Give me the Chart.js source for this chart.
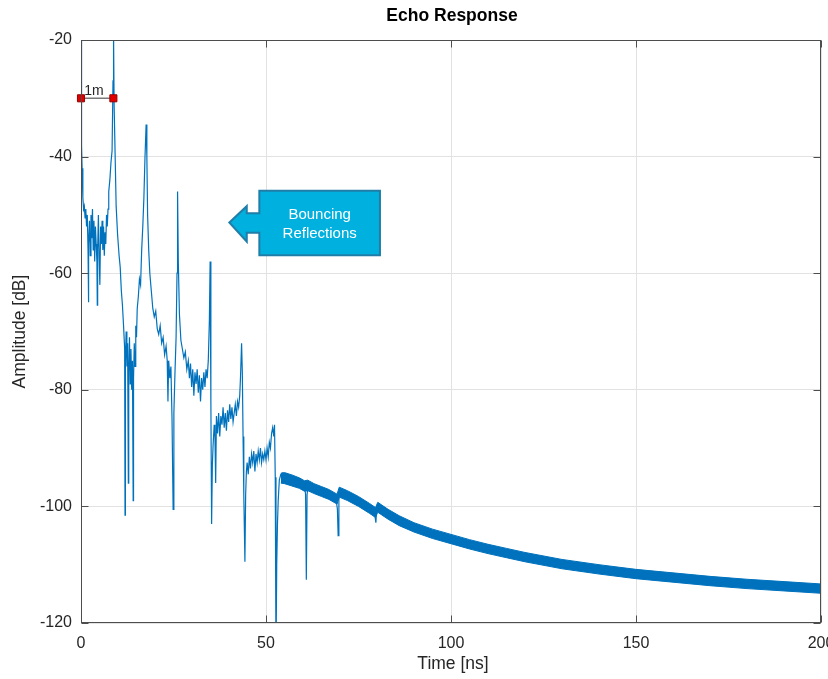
<!DOCTYPE html>
<html>
<head>
<meta charset="utf-8">
<title>Echo Response</title>
<script src="https://cdn.jsdelivr.net/npm/chart.js@4.4.1/dist/chart.umd.min.js"></script>
<style>
  html, body { margin: 0; padding: 0; background: #fff; }
  #wrap { width: 828px; height: 679px; }
</style>
</head>
<body>
<div id="wrap"><canvas id="echo" width="828" height="679"></canvas></div>
<script>
// echo trace, time in ns, amplitude in dB
const traceTime = [
  0, 0.15, 0.3, 0.5, 0.7, 0.9, 1.1, 1.3, 1.5, 1.7, 1.9, 2.0, 2.1, 2.3, 2.5, 2.7, 2.9, 3.1, 3.3, 3.5,
  3.7, 3.9, 4.1, 4.3, 4.4, 4.5, 4.7, 4.9, 5.1, 5.3, 5.5, 5.7, 5.9, 6.1, 6.3, 6.5, 6.7, 6.9, 7.1, 7.3,
  7.5, 7.8, 8.1, 8.4, 8.65, 8.8, 8.95, 9.2,
  9.5, 9.9, 10.3, 10.6, 10.9, 11.2, 11.5, 11.8, 11.9, 12.0, 12.2, 12.4, 12.6, 12.8, 12.9, 13.1, 13.3, 13.5,
  13.7, 13.9, 14.1, 14.2, 14.4, 14.6, 14.8, 15.0, 15.2, 15.5, 15.8, 16.1, 16.4, 16.7, 17.0, 17.3, 17.6,
  17.8, 18.0, 18.3, 18.6, 19.0, 19.4, 19.8, 20.2, 20.6, 21.0, 21.4, 21.8, 22.2, 22.6, 23.0, 23.3, 23.5,
  23.7, 24.0, 24.3, 24.6, 24.9, 25.1, 25.4, 25.7, 25.95, 26.1,
  26.3, 26.6, 27.0, 27.4, 27.8, 28.2, 28.6, 29.0, 29.3, 29.6, 29.9, 30.2, 30.5, 30.8, 31.1, 31.4, 31.7,
  32.0, 32.3, 32.6, 32.9, 33.2, 33.5, 33.8, 34.1, 34.4, 34.7, 34.9,
  35.1, 35.3, 35.5, 35.7, 36.0, 36.2, 36.4, 36.6, 36.9, 37.2, 37.5, 37.8, 38.1, 38.4, 38.7, 39.0, 39.3,
  39.6, 39.9, 40.2, 40.5, 40.8, 41.1, 41.4, 41.7, 42.0, 42.3, 42.6, 42.9, 43.1, 43.4,
  43.6, 43.8, 44.0, 44.3, 44.5, 44.7, 44.9, 45.2, 45.5, 45.8, 46.1, 46.4, 46.7, 47.0, 47.3, 47.6, 47.9,
  48.2, 48.5, 48.8, 49.1, 49.4, 49.7, 50.0, 50.3, 50.6, 50.9, 51.2, 51.5, 51.8, 52.1, 52.3, 52.5, 52.7,
  52.9, 53.1, 53.3, 53.6, 54.0,
  54.5, 55.0, 55.5, 56.0, 56.5, 57.0, 57.5, 58.0, 58.5, 59.0, 59.5, 60.0, 60.4, 60.7, 60.9, 61.1, 61.4,
  62.0, 63.0, 64.0, 65.0, 66.0, 67.0, 68.0, 69.0, 69.3, 69.5, 69.7, 69.9, 71.0, 72.5, 74.0, 75.5, 77.0,
  78.5, 79.4, 79.7, 79.9, 80.5, 81.0
];
const traceDb = [
  -19, -38, -42, -47, -49, -48.5, -50.5, -49, -52, -50, -56, -65, -55, -51, -57, -50, -54, -49, -56, -51,
  -58, -52, -55, -58, -65.5, -56, -50, -57, -62, -52, -55, -51, -56, -52, -57, -53, -55, -50, -52, -49,
  -46, -44, -41, -39, -27, -19, -31, -39,
  -48.5, -53.5, -57, -59, -63, -65.5, -69, -73, -101.5, -75, -70, -76, -72, -96, -77, -71, -79, -73,
  -80, -75, -99, -78, -72, -76, -69, -71, -66, -64, -61, -62, -56, -52, -47, -40, -34.5,
  -40, -50, -56, -60, -63, -66, -67.5, -66.5, -69.5, -70.5, -69, -72, -71, -74, -72.5, -75, -82,
  -75, -78, -76, -85, -100.5, -84, -77, -71, -60, -46,
  -58, -67, -71.5, -73, -74.5, -73.5, -76.5, -75, -78, -75.5, -79.5, -76.5, -81, -77, -79, -76.5, -80.5,
  -77.5, -82, -78, -80, -77, -79.5, -76.5, -78, -75, -68, -58,
  -82, -103, -93, -89.5, -86, -88, -96, -84.5, -87.5, -84, -88, -84.5, -86, -83, -86.5, -84, -87,
  -83.5, -85.5, -82.5, -85, -83, -85.5, -84, -82.5, -84.5, -82, -83, -81, -78, -72,
  -77, -88, -98, -109.5, -98, -94, -92.5, -94.5, -91.5, -93.5, -91, -92.5, -90.5, -94, -91, -92.5, -90.5,
  -92, -90, -92.5, -91, -92, -90.5, -92, -90, -91.5, -89, -90, -87.5, -86.5, -88, -86, -95, -126,
  -110, -103, -99, -95.5, -94.5,
  -94.3, -95.5, -94.6, -95.8, -94.8, -95.9, -95.2, -96.2, -95.4, -96.5, -95.8, -96.8, -96.3, -98, -112.6, -98, -96,
  -97.2, -97, -97.8, -97.6, -98.3, -98.1, -98.8, -99, -100.5, -105, -99, -97.3, -98, -98.3, -99, -99.2, -100,
  -100.6, -101.4, -102.8, -100.5, -100.4, -100.8
];

// dense noisy tail, drawn as the envelope of the trace
const bandTime = [
  54, 55, 57, 59, 60.4, 61.3, 63, 65, 67, 69.2, 69.8, 72, 75, 78, 79.6, 80.2, 83, 86, 90,
  95, 100, 105, 110, 115, 120, 130, 140, 150, 160, 170, 180, 190, 200
];
const bandUpper = [
  -94.3, -94.2, -94.6, -95.1, -95.6, -95.5, -96.1, -96.6, -97.1, -97.9, -96.7, -97.3, -98.3, -99.5, -100.2, -99.3, -100.5, -101.6, -102.8,
  -103.9, -104.8, -105.7, -106.5, -107.2, -107.9, -109.1, -110.0, -110.8, -111.4, -112.0, -112.5, -112.9, -113.3
];
const bandLower = [
  -96.0, -96.1, -96.5, -96.9, -97.4, -97.3, -97.8, -98.3, -98.8, -99.6, -98.4, -99.0, -100.0, -101.2, -101.9, -101.0, -102.2, -103.3, -104.4,
  -105.5, -106.4, -107.3, -108.1, -108.8, -109.5, -110.7, -111.6, -112.4, -113.0, -113.6, -114.1, -114.5, -114.9
];

// "1m" distance marker
const markerTime = [0, 8.75];
const markerDb = [-30, -30];

const xTicks = [0, 50, 100, 150, 200];
const yTicks = [-120, -100, -80, -60, -40, -20];

const FONT = "'Liberation Sans', Arial, Helvetica, sans-serif";
const LINE_BLUE = '#0072BD';
const AXIS_COLOR = '#4d4d4d';
const TEXT_COLOR = '#262626';

const toPoints = (xs, ys) => xs.map((v, i) => ({ x: v, y: ys[i] }));

const matlabFrame = {
  id: 'matlabFrame',
  afterDatasetsDraw(chart) {
    const { ctx, chartArea: a, scales: { x, y } } = chart;
    const px = (v) => x.getPixelForValue(v);
    const py = (v) => y.getPixelForValue(v);
    ctx.save();

    // callout arrow "Bouncing Reflections"
    const boxL = px(48.2), boxR = px(80.8), boxT = py(-45.85), boxB = py(-56.9);
    const headX = px(44.8), tipX = px(40.1), tipY = py(-51.3);
    const headT = py(-48.5), headB = py(-54.6), shaftT = py(-49.7), shaftB = py(-53.05);
    ctx.beginPath();
    ctx.moveTo(tipX, tipY);
    ctx.lineTo(headX, headT);
    ctx.lineTo(headX, shaftT);
    ctx.lineTo(boxL, shaftT);
    ctx.lineTo(boxL, boxT);
    ctx.lineTo(boxR, boxT);
    ctx.lineTo(boxR, boxB);
    ctx.lineTo(boxL, boxB);
    ctx.lineTo(boxL, shaftB);
    ctx.lineTo(headX, shaftB);
    ctx.lineTo(headX, headB);
    ctx.closePath();
    ctx.fillStyle = '#00B0DE';
    ctx.fill();
    ctx.lineWidth = 2;
    ctx.strokeStyle = '#1f7ea8';
    ctx.lineJoin = 'miter';
    ctx.stroke();
    ctx.fillStyle = '#ffffff';
    ctx.font = '15px ' + FONT;
    ctx.textAlign = 'center';
    ctx.textBaseline = 'middle';
    const cx = (boxL + boxR) / 2, cy = (boxT + boxB) / 2;
    ctx.fillText('Bouncing', cx, cy - 8.5);
    ctx.fillText('Reflections', cx, cy + 10.5);

    // "1m" label over the marker
    ctx.fillStyle = TEXT_COLOR;
    ctx.font = '14px ' + FONT;
    ctx.textBaseline = 'alphabetic';
    ctx.fillText('1m', px(markerTime[0]) + 13, py(markerDb[0]) - 3);

    // box with inward ticks
    ctx.strokeStyle = AXIS_COLOR;
    ctx.lineWidth = 1;
    const l = Math.round(a.left) + 0.5, r = Math.round(a.right) - 0.5;
    const t = Math.round(a.top) + 0.5, b = Math.round(a.bottom) - 0.5;
    ctx.strokeRect(l, t, r - l, b - t);
    ctx.beginPath();
    xTicks.forEach((v) => {
      const p = Math.round(px(v)) + 0.5;
      ctx.moveTo(p, b); ctx.lineTo(p, b - 7);
      ctx.moveTo(p, t); ctx.lineTo(p, t + 7);
    });
    yTicks.forEach((v) => {
      const p = Math.round(py(v)) + 0.5;
      ctx.moveTo(l, p); ctx.lineTo(l + 7, p);
      ctx.moveTo(r, p); ctx.lineTo(r - 7, p);
    });
    ctx.stroke();
    ctx.restore();
  },
  afterDraw(chart) {
    const { ctx, chartArea: a } = chart;
    ctx.save();
    ctx.fillStyle = '#000';
    ctx.textAlign = 'center';
    ctx.textBaseline = 'alphabetic';
    ctx.font = 'bold 17.5px ' + FONT;
    ctx.fillText('Echo Response', (a.left + a.right) / 2 + 1, 21);
    ctx.fillStyle = TEXT_COLOR;
    ctx.font = '17.5px ' + FONT;
    ctx.fillText('Time [ns]', (a.left + a.right) / 2 + 2, 669);
    ctx.translate(25, (a.top + a.bottom) / 2);
    ctx.rotate(-Math.PI / 2);
    ctx.fillText('Amplitude [dB]', 0, 0);
    ctx.restore();
  }
};

const config = {
  type: 'line',
  data: {
    datasets: [
      {
        label: '1m',
        data: toPoints(markerTime, markerDb),
        borderColor: '#7a7a7a',
        borderWidth: 1.5,
        pointStyle: 'rect',
        pointRadius: 5,
        pointBackgroundColor: '#e00000',
        pointBorderColor: '#9a0000',
        pointBorderWidth: 1,
        clip: false,
      },
      {
        label: 'Echo',
        data: toPoints(traceTime, traceDb),
        borderColor: LINE_BLUE,
        borderWidth: 1.2,
        pointRadius: 0,
        tension: 0,
      },
      {
        label: 'Tail upper',
        data: toPoints(bandTime, bandUpper),
        borderColor: LINE_BLUE,
        backgroundColor: LINE_BLUE,
        borderWidth: 1,
        pointRadius: 0,
        fill: '+1',
      },
      {
        label: 'Tail lower',
        data: toPoints(bandTime, bandLower),
        borderColor: LINE_BLUE,
        borderWidth: 1,
        pointRadius: 0,
        fill: false,
      },
    ],
  },
  options: {
    responsive: false,
    animation: false,
    events: [],
    layout: { padding: { top: 40, right: 7, left: 0, bottom: 0 } },
    plugins: {
      legend: { display: false },
      title: { display: false },
      tooltip: { enabled: false },
    },
    scales: {
      x: {
        type: 'linear',
        min: 0,
        max: 200,
        afterBuildTicks: (scale) => { scale.ticks = xTicks.map((v) => ({ value: v })); },
        afterFit: (scale) => { scale.height = 56; scale.paddingLeft = 0; scale.paddingRight = 0; },
        ticks: { color: TEXT_COLOR, font: { family: FONT, size: 16 }, padding: 11, maxRotation: 0 },
        grid: { color: '#e2e2e2', drawTicks: false },
        border: { display: false },
      },
      y: {
        type: 'linear',
        min: -120,
        max: -20,
        afterBuildTicks: (scale) => { scale.ticks = yTicks.map((v) => ({ value: v })); },
        afterFit: (scale) => { scale.width = 81; },
        ticks: { color: TEXT_COLOR, font: { family: FONT, size: 16 }, padding: 9 },
        grid: { color: '#e2e2e2', drawTicks: false },
        border: { display: false },
      },
    },
  },
  plugins: [matlabFrame],
};

new Chart(document.getElementById('echo'), config);
</script>
</body>
</html>
